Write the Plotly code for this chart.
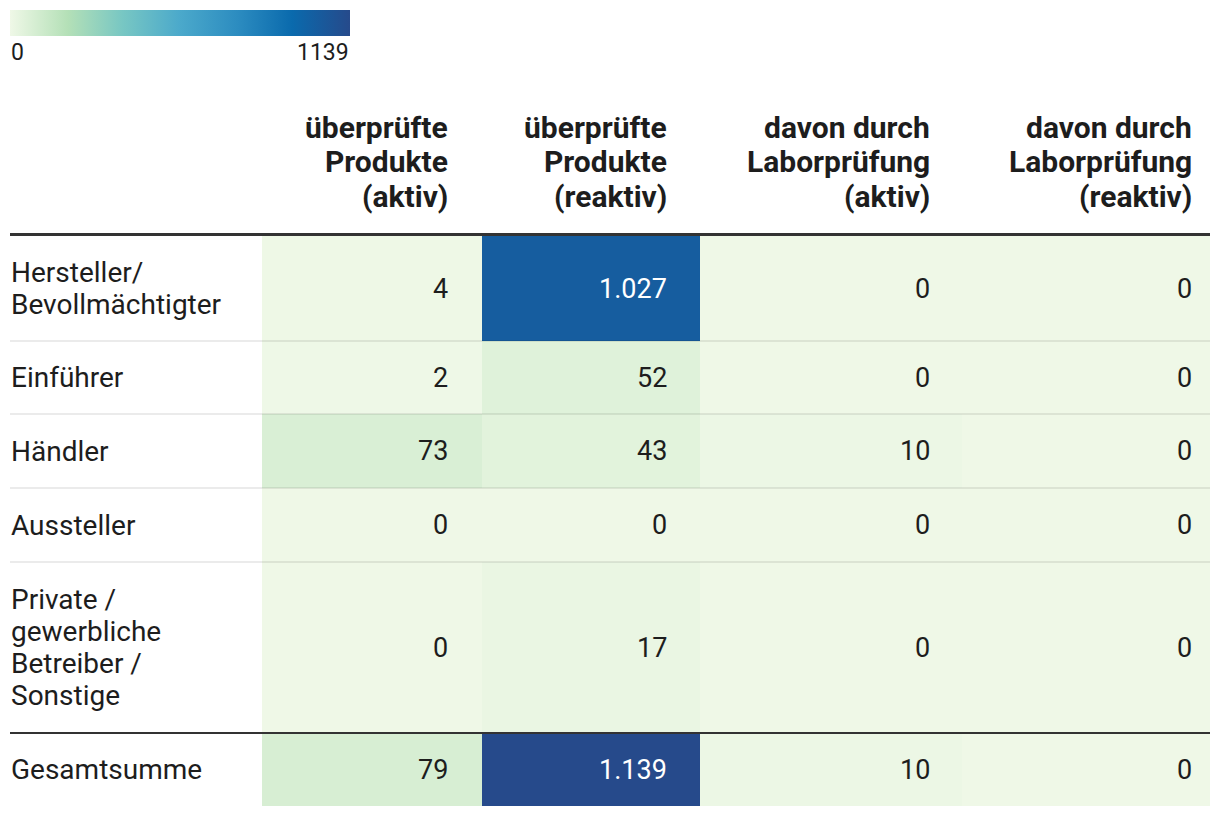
import plotly.graph_objects as go

# ---- data ----
row_labels = ["Hersteller/<br>Bevollmächtigter", "Einführer", "Händler", "Aussteller",
              "Private /<br>gewerbliche<br>Betreiber /<br>Sonstige", "Gesamtsumme"]
col_headers = ["überprüfte<br>Produkte<br>(aktiv)", "überprüfte<br>Produkte<br>(reaktiv)",
               "davon durch<br>Laborprüfung<br>(aktiv)", "davon durch<br>Laborprüfung<br>(reaktiv)"]
gepr_aktiv = [4, 2, 73, 0, 0, 79]
gepr_reaktiv = [1027, 52, 43, 0, 17, 1139]
labor_aktiv = [0, 0, 10, 0, 0, 10]
labor_reaktiv = [0, 0, 0, 0, 0, 0]
columns = [gepr_aktiv, gepr_reaktiv, labor_aktiv, labor_reaktiv]
zmax = 1139

# ---- layout geometry (page pixels) ----
W, H = 1220, 816
OFF = 8  # default page body margin
x_edges = [262, 482, 700, 962, 1210]
y_edges = [236, 341, 414, 488, 562, 733, 806]
text_right = [449, 668, 931, 1193]
FONT = "Roboto"
DARK = "#1d1d1d"
HEAD_LINE_Y = [127, 161.5, 196]
LABEL_LH = 32

colorscale = [
    [0.0, "#eff8e7"],
    [0.17, "#b4e0b7"],
    [0.33, "#78c7c3"],
    [0.5, "#4ba9cb"],
    [0.67, "#2c8cc0"],
    [0.83, "#0a6aad"],
    [1.0, "#264a8b"],
]

z = [[columns[c][r] for c in range(len(columns))] for r in range(len(row_labels))]

fw, fh = W - OFF, H - OFF

fig = go.Figure()
fig.add_trace(go.Heatmap(
    z=z, x=x_edges, y=y_edges, zmin=0, zmax=zmax, colorscale=colorscale,
    hoverinfo="skip",
    colorbar=dict(orientation="h", x=(10 - OFF) / fw, xanchor="left", y=1 - (10 - OFF) / fh,
                  yanchor="top", len=340, lenmode="pixels", thickness=26, thicknessmode="pixels",
                  outlinewidth=0, xpad=0, ypad=0, showticklabels=False, ticks=""),
))

def fmt(v):
    return f"{v:,}".replace(",", ".")

ann = []
# legend labels
ann.append(dict(x=9, y=52, text="0", xanchor="left", yanchor="middle", showarrow=False,
                font=dict(family=FONT, size=23, color=DARK)))
ann.append(dict(x=351, y=52, text=str(zmax), xanchor="right", yanchor="middle", showarrow=False,
                font=dict(family=FONT, size=23, color=DARK)))
# headers (one annotation per line for exact line spacing)
for c, h in enumerate(col_headers):
    for i, line in enumerate(h.split("<br>")):
        ann.append(dict(x=text_right[c] + 1, y=HEAD_LINE_Y[i], text=f"<b>{line}</b>",
                        xanchor="right", yanchor="middle", showarrow=False,
                        font=dict(family=FONT, size=30, color=DARK)))
# rows
for r, lab in enumerate(row_labels):
    yc = (y_edges[r] + y_edges[r + 1]) / 2
    lines = lab.split("<br>")
    n = len(lines)
    for i, line in enumerate(lines):
        yl = yc + (i - (n - 1) / 2) * LABEL_LH
        ann.append(dict(x=9, y=yl, text=line, xanchor="left", yanchor="middle",
                        showarrow=False, font=dict(family=FONT, size=28, color=DARK)))
    for c in range(len(columns)):
        v = columns[c][r]
        col = "#ffffff" if v / zmax > 0.6 else DARK
        ann.append(dict(x=text_right[c] + 1, y=yc, text=fmt(v), xanchor="right", yanchor="middle",
                        showarrow=False, font=dict(family=FONT, size=27, color=col)))

shapes = []
# thick header line
shapes.append(dict(type="line", x0=10, x1=1210, y0=234.5, y1=234.5, line=dict(color="#333333", width=3)))
# row separators
for yy in y_edges[1:5]:
    shapes.append(dict(type="line", x0=10, x1=1210, y0=yy, y1=yy,
                       line=dict(color="rgba(0,0,0,0.08)", width=2)))
# total separator
shapes.append(dict(type="line", x0=10, x1=1210, y0=y_edges[5], y1=y_edges[5],
                   line=dict(color="#333333", width=2)))

fig.update_layout(
    width=fw, height=fh, margin=dict(l=0, r=0, t=0, b=0),
    paper_bgcolor="white", plot_bgcolor="white",
    xaxis=dict(range=[OFF, W], visible=False, fixedrange=True),
    yaxis=dict(range=[H, OFF], visible=False, fixedrange=True),
    annotations=ann, shapes=shapes, showlegend=False,
)
fig.write_html("out.html")
